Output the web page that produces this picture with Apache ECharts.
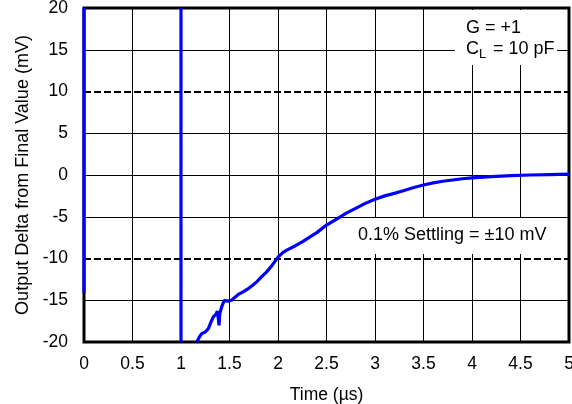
<!DOCTYPE html>
<html>
<head>
<meta charset="utf-8">
<script src="https://cdn.jsdelivr.net/npm/echarts@6/dist/echarts.min.js"></script>
<style>
html,body{margin:0;padding:0;background:#fff;}
#chart{width:572px;height:404px;}
</style>
</head>
<body>
<div id="chart"></div>
<script>
// ---- data ----
const xTicks = [0, 0.5, 1, 1.5, 2, 2.5, 3, 3.5, 4, 4.5, 5];
const yTicks = [-20, -15, -10, -5, 0, 5, 10, 15, 20];
const settlingBand = [-10, 10];           // ±10 mV dashed lines
// trace at t = 0 (leading edge, off-scale above)
const edge0Time = [0, 0];
const edge0Delta = [-14.1, 20];
// trace at t = 1 µs (steps through the full range)
const edge1Time = [1, 1];
const edge1Delta = [20, -20];
// settling tail
const tailTime = [1.162, 1.19, 1.213, 1.25, 1.282, 1.31, 1.333, 1.36, 1.375, 1.385, 1.392, 1.40, 1.419, 1.447, 1.48, 1.522, 1.56, 1.591, 1.64, 1.694, 1.74, 1.78, 1.83, 1.883, 1.94, 2.003, 2.05, 2.09, 2.175, 2.25, 2.33, 2.40, 2.50, 2.60, 2.70, 2.80, 2.90, 3.0, 3.1, 3.2, 3.3, 3.4, 3.5, 3.6, 3.7, 3.8, 3.9, 4.0, 4.2, 4.4, 4.6, 4.8, 5.0];
const tailDelta = [-20, -19.4, -19.0, -18.8, -18.4, -17.6, -17.0, -16.7, -16.3, -17.2, -18.0, -16.6, -15.8, -15.0, -15.1, -15.0, -14.6, -14.3, -14.0, -13.6, -13.2, -12.8, -12.2, -11.6, -10.8, -9.8, -9.3, -9.0, -8.5, -8.0, -7.4, -6.9, -6.0, -5.3, -4.6, -4.0, -3.4, -2.9, -2.5, -2.2, -1.85, -1.5, -1.2, -0.95, -0.75, -0.6, -0.45, -0.35, -0.2, -0.08, 0.0, 0.05, 0.1];

const zip = (a, b) => a.map((v, i) => [v, b[i]]);
const FONT = '"Liberation Sans", Arial, sans-serif';
const BLUE = '#0000ff';

const chart = echarts.init(document.getElementById('chart'), null, {renderer: 'canvas'});

// split line colours: hide solid lines where the dashed band lines are drawn
const ySplitColors = yTicks.map(v => settlingBand.includes(v) ? 'rgba(0,0,0,0)' : '#000');

const lineSeries = (data) => ({
  type: 'line', data: data, showSymbol: false, symbol: 'none',
  lineStyle: {color: BLUE, width: 3.2}, animation: false, z: 5, clip: true
});

chart.setOption({
  animation: false,
  grid: {left: 84, right: 3, top: 8, bottom: 62, outerBoundsMode: 'none', containLabel: false,
         show: true, borderColor: '#000', borderWidth: 3, backgroundColor: 'transparent', z: 3},
  xAxis: {
    type: 'value', min: 0, max: 5, interval: 0.5,
    name: 'Time (µs)', nameLocation: 'middle', nameGap: 44,
    nameTextStyle: {fontFamily: FONT, fontSize: 17.5, color: '#000'},
    axisLine: {show: false}, axisTick: {show: false},
    axisLabel: {fontFamily: FONT, fontSize: 17.5, color: '#000', margin: 13, formatter: v => String(v)},
    splitLine: {show: true, lineStyle: {color: '#000', width: 1}}
  },
  yAxis: {
    type: 'value', min: -20, max: 20, interval: 5,
    name: 'Output Delta from Final Value (mV)', nameLocation: 'middle', nameGap: 50,
    nameTextStyle: {fontFamily: FONT, fontSize: 18, color: '#000'},
    axisLine: {show: false}, axisTick: {show: false},
    axisLabel: {fontFamily: FONT, fontSize: 17.5, color: '#000', margin: 16},
    splitLine: {show: true, lineStyle: {color: ySplitColors, width: 1}}
  },
  series: [
    {
      type: 'line', data: [], silent: true,
      markLine: {
        silent: true, symbol: 'none', animation: false,
        label: {show: false},
        lineStyle: {color: '#000', type: [7, 3], width: 2},
        data: settlingBand.map(v => ({yAxis: v}))
      }
    },
    lineSeries(zip(edge0Time, edge0Delta)),
    lineSeries(zip(edge1Time, edge1Delta)),
    lineSeries(zip(tailTime, tailDelta))
  ],
  graphic: [
    {type: 'rect', z: 50, shape: {x: 455, y: 10, width: 102, height: 55}, style: {fill: '#fff'}},
    {type: 'text', z: 51, left: 466, top: 19, style: {text: 'G = +1', font: '18px ' + FONT, fill: '#000'}},
    {type: 'text', z: 51, left: 466, top: 40, style: {text: 'C', font: '18px ' + FONT, fill: '#000'}},
    {type: 'text', z: 51, left: 479, top: 48, style: {text: 'L', font: '13px ' + FONT, fill: '#000'}},
    {type: 'text', z: 51, left: 488, top: 40, style: {text: ' = 10 pF', font: '18px ' + FONT, fill: '#000'}},
    {type: 'rect', z: 50, shape: {x: 350, y: 218, width: 210, height: 36}, style: {fill: '#fff'}},
    {type: 'text', z: 51, left: 358, top: 226, style: {text: '0.1% Settling = ±10 mV', font: '18px ' + FONT, fill: '#000'}}
  ]
});
</script>
</body>
</html>
